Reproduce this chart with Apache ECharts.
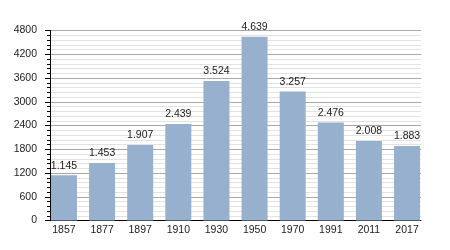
<!DOCTYPE html>
<html>
<head>
<meta charset="utf-8">
<script src="https://cdn.jsdelivr.net/npm/echarts@6/dist/echarts.min.js"></script>
<style>
html,body{margin:0;padding:0;background:#fff;}
#chart{width:450px;height:250px;}
</style>
</head>
<body>
<div id="chart"></div>
<script>
const years = ['1857','1877','1897','1910','1930','1950','1970','1991','2011','2017'];
const population = [1145,1453,1907,2439,3524,4639,3257,2476,2008,1883];
const yMin = 0;
const yMax = 4800;
const yStep = 600;

function fmt(v){ return String(v).replace(/\B(?=(\d{3})+(?!\d))/g,'.'); }

const FONT = '"Liberation Sans", Arial, sans-serif';
const chart = echarts.init(document.getElementById('chart'), null, {renderer:'canvas'});
chart.setOption({
  animation:false,
  backgroundColor:'#ffffff',
  grid:[
    {left:50, right:29, top:30.5, bottom:29.5},
    {left:44.9, right:23.9, top:30.5, bottom:29.5}
  ],
  xAxis:[
    {gridIndex:0, type:'value', min:0, max:1, axisLine:{show:true, lineStyle:{color:'#000', width:1}},
     axisTick:{show:false}, axisLabel:{show:false}, splitLine:{show:false}},
    {gridIndex:1, type:'category', data:years, axisLine:{show:false}, axisTick:{show:false},
     axisLabel:{color:'#222', fontSize:10.5, fontFamily:FONT, margin:4}}
  ],
  yAxis:[
    {gridIndex:0, type:'value', min:yMin, max:yMax, interval:yStep,
     axisLine:{show:true, lineStyle:{color:'#000', width:1}},
     axisTick:{show:true, length:5, lineStyle:{color:'#000'}},
     minorTick:{show:true, splitNumber:5, length:3, lineStyle:{color:'#000'}},
     axisLabel:{color:'#222', fontSize:10.5, fontFamily:FONT, margin:13, formatter:v=>String(v)},
     splitLine:{show:true, lineStyle:{color:'#a8a8a8', width:1}},
     minorSplitLine:{show:true, lineStyle:{color:'#e2e2e2', width:1}}},
    {gridIndex:1, type:'value', min:yMin, max:yMax, show:false}
  ],
  series:[{
    type:'bar', xAxisIndex:1, yAxisIndex:1, data:population, barWidth:26,
    itemStyle:{color:'#96b0cd'},
    label:{show:true, position:'top', distance:4, color:'#222', fontSize:10.5, fontFamily:FONT,
      formatter:p=>fmt(p.value)}
  }]
});
</script>
</body>
</html>
